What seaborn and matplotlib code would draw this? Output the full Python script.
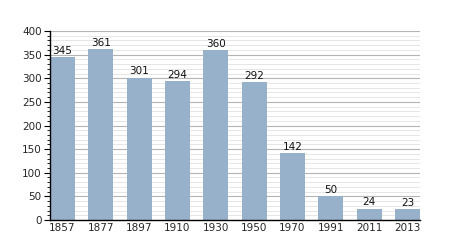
import matplotlib
matplotlib.use("Agg")
import matplotlib.pyplot as plt
import seaborn as sns
import pandas as pd
from matplotlib.ticker import MultipleLocator

years = ["1857", "1877", "1897", "1910", "1930", "1950", "1970", "1991", "2011", "2013"]
population = [345, 361, 301, 294, 360, 292, 142, 50, 24, 23]

df = pd.DataFrame({"year": years, "pop": population})

sns.set_theme(style="white")
plt.rcParams['font.family'] = ['DejaVu Sans']

fig = plt.figure(figsize=(4.5, 2.5), dpi=100)
ax = fig.add_axes([0.111, 0.12, 0.822, 0.756])

w = 0.65
sns.barplot(data=df, x="year", y="pop", color="#98b1cb", saturation=1, width=w,
            linewidth=0, edgecolor="none", ax=ax, zorder=3)

ax.set_xlim(-w / 2, len(years) - 1 + w / 2)
ax.set_ylim(0, 400)
ax.yaxis.set_major_locator(MultipleLocator(50))
ax.yaxis.set_minor_locator(MultipleLocator(10))
ax.grid(which="major", axis="y", color="#b4b4b4", linewidth=0.8, zorder=0)
ax.grid(which="minor", axis="y", color="#e2e2e2", linewidth=0.6, zorder=0)
ax.set_axisbelow(True)

for c in ax.containers:
    ax.bar_label(c, labels=[str(v) for v in population], padding=1, fontsize=7.5, color="#111111")

for s in ["top", "right"]:
    ax.spines[s].set_visible(False)
for s in ["left", "bottom"]:
    ax.spines[s].set_color("black")
    ax.spines[s].set_linewidth(1)
    ax.spines[s].set_zorder(5)

ax.tick_params(axis="y", which="major", length=4, width=0.8, color="black", labelsize=7.5, pad=2, left=True)
ax.tick_params(axis="y", which="minor", length=2, width=0.6, color="black", left=True)
ax.tick_params(axis="x", length=0, labelsize=7.5, pad=2)
ax.set_xlabel("")
ax.set_ylabel("")

fig.savefig("out.png", dpi=100)
